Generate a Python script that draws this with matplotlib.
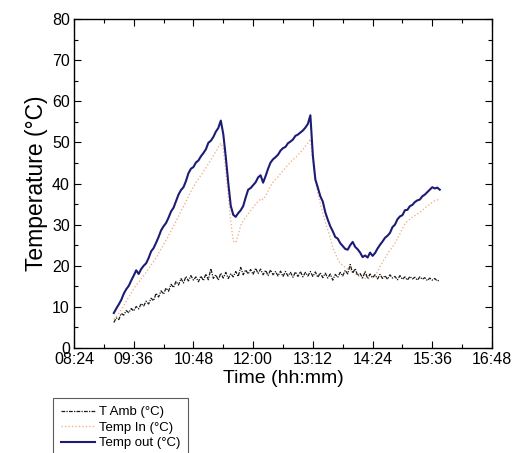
import numpy as np
import matplotlib
matplotlib.use("Agg")
import matplotlib.pyplot as plt
from matplotlib.ticker import MultipleLocator, FuncFormatter

plt.rcParams['font.family'] = ['Liberation Sans', 'DejaVu Sans']

# Sampling: every 3 minutes starting at 09:12 (hours)
start_hour = 9.2
step_min = 3

temp_out = [
    8.5, 9.6, 10.6, 11.7, 13.2, 14.3, 15.1, 16.4, 17.6, 18.9,
    18.0, 19.2, 20.0, 20.6, 21.9, 23.5, 24.3, 25.6, 27.0, 28.6,
    29.6, 30.4, 31.7, 33.2, 34.1, 35.7, 37.3, 38.4, 39.1, 40.6,
    42.5, 43.6, 44.0, 45.1, 45.6, 46.6, 47.4, 48.3, 49.9, 50.4,
    51.3, 52.6, 53.5, 55.3, 52.0, 46.5, 40.2, 34.6, 32.4, 31.9,
    32.8, 33.5, 34.5, 36.6, 38.5, 38.9, 39.6, 40.3, 41.5, 42.0,
    40.2, 41.8, 43.6, 45.1, 45.9, 46.4, 47.0, 48.0, 48.6, 48.9,
    49.8, 50.2, 50.7, 51.6, 51.9, 52.4, 52.9, 53.6, 54.5, 56.6,
    46.8, 41.0, 39.0, 36.9, 35.6, 33.0, 31.2, 29.6, 28.4, 27.0,
    26.6, 25.5, 24.8, 24.1, 23.9, 25.0, 25.8, 24.6, 24.0, 23.2,
    22.1, 22.5, 22.0, 23.2, 22.4, 23.1, 24.2, 25.1, 25.9, 26.8,
    27.3, 28.0, 29.4, 30.0, 31.3, 32.0, 32.3, 33.5, 33.6, 34.5,
    34.8, 35.5, 35.9, 36.1, 36.9, 37.3, 37.9, 38.5, 39.1, 38.8,
    39.0, 38.5,
]

temp_in = [
    7.0, 7.6, 8.4, 9.3, 10.3, 11.4, 12.4, 13.3, 14.4, 15.3,
    16.0, 16.8, 17.6, 18.4, 19.3, 20.2, 21.0, 21.9, 23.0, 24.1,
    25.1, 26.2, 27.3, 28.5, 29.6, 30.8, 32.0, 33.3, 34.4, 35.6,
    36.9, 38.1, 39.2, 40.2, 41.1, 42.0, 42.9, 43.8, 44.8, 45.8,
    46.8, 47.8, 48.8, 49.8, 48.5, 43.0, 36.8, 30.8, 26.0, 25.6,
    27.5, 29.8, 31.0, 31.8, 32.6, 33.4, 34.2, 35.0, 35.6, 36.3,
    36.1, 37.0, 38.2, 39.4, 40.3, 41.0, 41.6, 42.4, 43.1, 43.8,
    44.5, 45.2, 45.8, 46.3, 46.9, 47.6, 48.3, 49.1, 49.9, 50.8,
    45.5, 40.8, 37.6, 35.2, 32.8, 30.6, 28.8, 26.8, 24.4, 23.0,
    21.6, 20.6, 20.1, 19.6, 19.2, 19.0, 18.6, 18.1, 17.6, 17.2,
    17.0, 16.9, 16.8, 17.0, 17.3, 17.8, 18.6, 19.8, 20.9, 21.9,
    22.9, 23.8, 24.5, 25.5, 26.7, 27.8, 29.0, 30.2, 30.8, 31.3,
    31.8, 32.2, 32.6, 32.9, 33.5, 34.0, 34.5, 35.0, 35.4, 35.8,
    36.0, 36.2,
]

t_amb = [
    6.2, 7.3, 6.9, 8.4, 8.0, 9.1, 8.6, 9.6, 9.0, 10.1,
    9.5, 10.8, 10.2, 11.4, 10.7, 12.1, 11.5, 13.3, 12.4, 13.9,
    13.1, 14.6, 13.8, 15.5, 14.7, 16.2, 15.3, 16.9, 15.8, 17.4,
    16.3, 17.6, 16.5, 17.3, 16.1, 17.5, 16.4, 18.0, 16.6, 19.3,
    16.9, 17.8, 16.5, 18.2, 17.0, 18.4, 16.9, 18.1, 17.3, 18.6,
    17.4, 19.6, 17.8, 19.0, 18.0, 19.1, 17.9, 19.4, 18.1, 19.2,
    17.8, 18.9, 17.6, 19.0, 17.8, 18.6, 17.5, 18.7, 17.4, 18.6,
    17.5, 18.4, 17.2, 18.5, 17.4, 18.6, 17.3, 18.4, 17.5, 18.6,
    17.4, 18.5, 17.2, 18.3, 17.1, 18.2, 17.0, 18.0, 16.5, 17.9,
    17.2, 18.4, 17.5, 18.9, 18.0, 20.3, 18.2, 19.3, 17.6, 18.1,
    17.0, 18.6, 16.9, 18.0, 17.1, 17.8, 16.8, 17.9, 16.9, 17.6,
    16.7, 17.8, 17.0, 17.4, 16.6, 17.6, 16.7, 17.3, 16.5, 17.4,
    16.8, 17.2, 16.5, 17.3, 16.7, 17.1, 16.4, 17.0, 16.5, 16.9,
    16.3, 16.5,
]

series_labels = ["T Amb (°C)", "Temp In (°C)", "Temp out (°C)"]
x_label = "Time (hh:mm)"
y_label = "Temperature (°C)"


def times_for(values):
    return start_hour + np.arange(len(values)) * step_min / 60.0


fig = plt.figure(figsize=(5.16, 4.53), dpi=100)
ax = fig.add_axes([0.1434, 0.2318, 0.8101, 0.7262])

ax.plot(times_for(t_amb), t_amb, color="#1a1a1a", lw=0.9, ls=(0, (3, 1, 1, 1)),
        label=series_labels[0], zorder=3)
ax.plot(times_for(temp_in), temp_in, color="#f2b48f", lw=1.0, ls=(0, (1, 1.5)),
        label=series_labels[1], zorder=2)
ax.plot(times_for(temp_out), temp_out, color="#1c1c74", lw=1.5, ls="-",
        label=series_labels[2], zorder=4)

ax.set_xlim(8.4, 16.8)
ax.set_ylim(0, 80)
ax.xaxis.set_major_locator(MultipleLocator(1.2))
ax.xaxis.set_minor_locator(MultipleLocator(0.6))
ax.yaxis.set_major_locator(MultipleLocator(10))
ax.yaxis.set_minor_locator(MultipleLocator(5))


def hhmm(x, pos):
    total = int(round(x * 60))
    return f"{total // 60:02d}:{total % 60:02d}"


ax.xaxis.set_major_formatter(FuncFormatter(hhmm))
ax.tick_params(which="both", direction="in", top=True, right=True,
               labelsize=11.5, width=0.8, pad=3)
ax.tick_params(which="major", length=5)
ax.tick_params(which="minor", length=3)
for s in ax.spines.values():
    s.set_linewidth(1.0)

ax.set_xlabel(x_label, fontsize=14, labelpad=2)
ax.set_ylabel(y_label, fontsize=16.5, labelpad=3)

leg = fig.legend(loc="upper left", bbox_to_anchor=(0.1027, 0.1214),
                 bbox_transform=fig.transFigure, fontsize=9.5, frameon=True,
                 fancybox=False, edgecolor="#333333", borderaxespad=0,
                 handlelength=2.6, handletextpad=0.3, labelspacing=0.25,
                 borderpad=0.6)
leg.get_frame().set_linewidth(0.8)

fig.savefig("out.png", dpi=100)
